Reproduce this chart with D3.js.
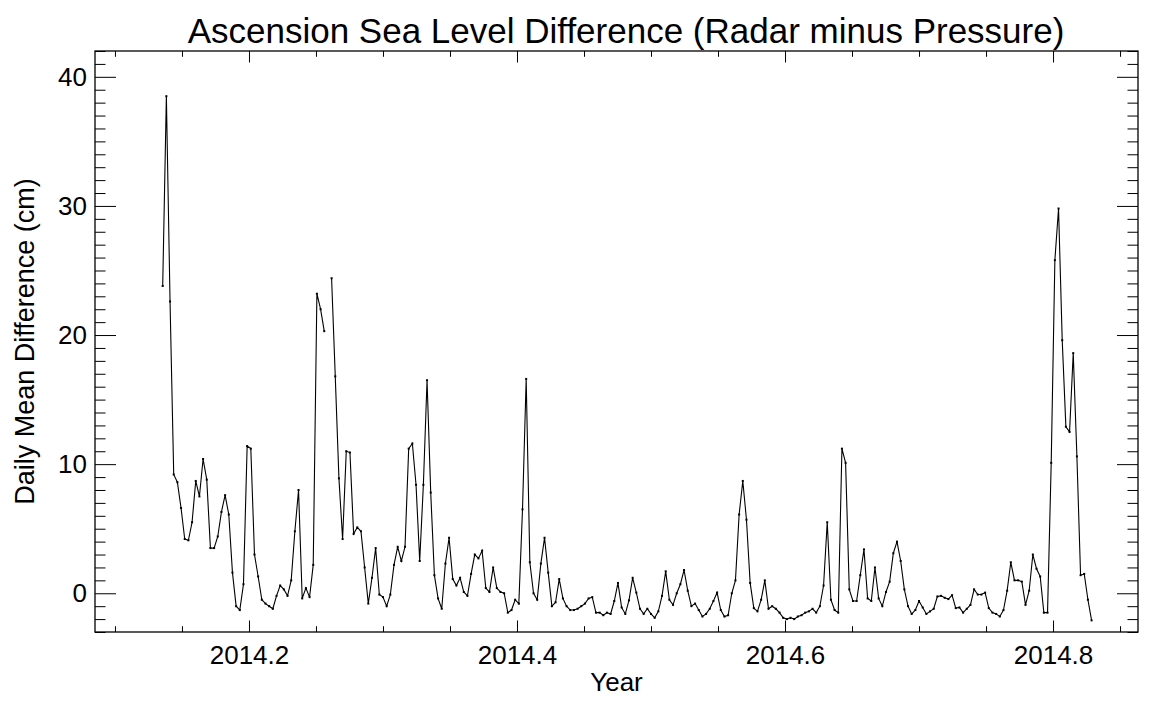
<!DOCTYPE html>
<html>
<head>
<meta charset="utf-8">
<script src="https://cdn.jsdelivr.net/npm/d3@7"></script>
<style>
  body { margin: 0; background: #fff; }
  text { font-family: "Liberation Sans", Arial, Helvetica, sans-serif; fill: #000; }
</style>
</head>
<body>
<svg id="chart" width="1152" height="701"></svg>
<script>
// Daily mean sea level difference, radar gauge minus pressure gauge (cm).
// First value is day-of-year 50 of 2014; null marks a missing day.
const firstDay = 50;
const diffCm = [
  23.8, 38.5, 22.6, 9.2, 8.6, 6.6, 4.2, 4.1, 5.5, 8.7,
  7.5, 10.4, 8.8, 3.5, 3.5, 4.4, 6.3, 7.6, 6.1, 1.6,
  -1.0, -1.3, 0.7, 11.4, 11.2, 3.0, 1.3, -0.5, -0.8, -1.0,
  -1.2, -0.2, 0.6, 0.3, -0.2, 1.0, 4.8, 8.0, -0.4, 0.4,
  -0.3, 2.2, 23.2, 22.0, 20.3, null, 24.4, 16.8, 8.9, 4.2,
  11.0, 10.9, 4.6, 5.1, 4.8, 2.0, -0.8, 1.2, 3.5, -0.1,
  -0.3, -1.0, -0.1, 2.2, 3.6, 2.5, 3.6, 11.2, 11.6, 8.4,
  2.5, 8.4, 16.5, 7.8, 1.4, -0.4, -1.2, 2.3, 4.3, 1.1,
  0.6, 1.2, 0.1, -0.2, 1.5, 3.0, 2.7, 3.3, 0.4, 0.1,
  2.0, 0.4, 0.1, 0.0, -1.5, -1.3, -0.5, -0.8, 6.5, 16.6,
  2.4, 0.0, -0.5, 2.3, 4.3, 1.6, -1.0, -0.7, 1.1, -0.4,
  -1.0, -1.3, -1.3, -1.2, -1.0, -0.8, -0.4, -0.3, -1.5, -1.5,
  -1.7, -1.5, -1.6, -0.6, 0.8, -1.1, -1.6, -0.55, 1.2, 0.05,
  -1.2, -1.6, -1.2, -1.6, -1.9, -1.4, -0.2, 1.7, -0.5, -0.9,
  0.0, 0.7, 1.8, 0.2, -1.0, -0.8, -1.3, -1.8, -1.6, -1.2,
  -0.6, 0.05, -1.3, -1.8, -1.7, 0.0, 1.0, 6.1, 8.7, 5.7,
  0.8, -1.15, -1.4, -0.5, 1.0, -1.2, -1.0, -1.2, -1.5, -1.9,
  -2.0, -1.9, -2.0, -1.8, -1.7, -1.5, -1.4, -1.2, -1.5, -1.0,
  0.6, 5.5, -0.5, -1.3, -1.5, 11.2, 10.1, 0.3, -0.6, -0.6,
  1.4, 3.4, -0.4, -0.6, 2.0, -0.4, -1.0, 0.1, 0.9, 3.1,
  4.0, 2.5, 0.3, -1.0, -1.6, -1.3, -0.6, -1.1, -1.6, -1.4,
  -1.2, -0.25, -0.2, -0.35, -0.45, -0.15, -1.15, -1.1, -1.5, -1.2,
  -0.9, 0.3, -0.1, -0.1, 0.05, -1.15, -1.5, -1.6, -1.8, -1.3,
  0.2, 2.4, 1.0, 1.0, 0.9, -0.9, 0.2, 3.0, 1.9, 1.3,
  -1.5, -1.5, 10.1, 25.8, 29.8, 19.6, 12.9, 12.5, 18.6, 10.6,
  1.4, 1.5, -0.5, -2.1
];

const xRange = [2014.0851, 2014.8634];
const yRange = [-3, 42];
const xMajorTicks = [2014.2, 2014.4, 2014.6, 2014.8];
const xMinorStep = 0.05;
const yMajorTicks = [0, 10, 20, 30, 40];
const yMinorStep = 1;

const titleText = "Ascension Sea Level Difference (Radar minus Pressure)";
const xTitle = "Year";
const yTitle = "Daily Mean Difference (cm)";

const svg = d3.select("#chart");
const plot = { left: 95, right: 1138, top: 51, bottom: 632 };

const x = d3.scaleLinear().domain(xRange).range([plot.left, plot.right]);
const y = d3.scaleLinear().domain(yRange).range([plot.bottom, plot.top]);

const series = diffCm.map((v, i) => ({ t: 2014 + (firstDay + i - 0.5) / 365, v }));

// minor tick positions
const xMinor = d3.range(Math.ceil(xRange[0] / xMinorStep) * xMinorStep, xRange[1], xMinorStep)
  .map(d => +d.toFixed(3))
  .filter(d => !xMajorTicks.some(m => Math.abs(m - d) < 1e-6));
const yMinor = d3.range(yRange[0], yRange[1] + 0.001, yMinorStep)
  .filter(d => !yMajorTicks.includes(d));

const xMajLen = 11.5, xMinLen = 5.8, yMajLen = 21, yMinLen = 10.5;
const tickFont = 26;

function styleAxis(g) {
  g.select(".domain").remove();
  g.selectAll(".tick line").attr("stroke", "#000").attr("stroke-width", 1);
}

// bottom axis with labels
svg.append("g")
  .attr("transform", `translate(0,${plot.bottom})`)
  .call(d3.axisBottom(x).tickValues(xMajorTicks).tickSize(-xMajLen).tickPadding(14)
        .tickFormat(d3.format(".1f")))
  .call(styleAxis)
  .call(g => g.selectAll("text").attr("font-size", tickFont).attr("font-family", "Liberation Sans, Arial, sans-serif"));
svg.append("g")
  .attr("transform", `translate(0,${plot.bottom})`)
  .call(d3.axisBottom(x).tickValues(xMinor).tickSize(-xMinLen).tickFormat(""))
  .call(styleAxis);
// top axis
svg.append("g")
  .attr("transform", `translate(0,${plot.top})`)
  .call(d3.axisTop(x).tickValues(xMajorTicks).tickSize(-xMajLen).tickFormat(""))
  .call(styleAxis);
svg.append("g")
  .attr("transform", `translate(0,${plot.top})`)
  .call(d3.axisTop(x).tickValues(xMinor).tickSize(-xMinLen).tickFormat(""))
  .call(styleAxis);

// left axis with labels
svg.append("g")
  .attr("transform", `translate(${plot.left},0)`)
  .call(d3.axisLeft(y).tickValues(yMajorTicks).tickSize(-yMajLen).tickPadding(8)
        .tickFormat(d3.format("d")))
  .call(styleAxis)
  .call(g => g.selectAll("text").attr("font-size", tickFont).attr("font-family", "Liberation Sans, Arial, sans-serif"));
svg.append("g")
  .attr("transform", `translate(${plot.left},0)`)
  .call(d3.axisLeft(y).tickValues(yMinor).tickSize(-yMinLen).tickFormat(""))
  .call(styleAxis);
// right axis
svg.append("g")
  .attr("transform", `translate(${plot.right},0)`)
  .call(d3.axisRight(y).tickValues(yMajorTicks).tickSize(-yMajLen).tickFormat(""))
  .call(styleAxis);
svg.append("g")
  .attr("transform", `translate(${plot.right},0)`)
  .call(d3.axisRight(y).tickValues(yMinor).tickSize(-yMinLen).tickFormat(""))
  .call(styleAxis);

// frame
svg.append("rect")
  .attr("x", plot.left).attr("y", plot.top)
  .attr("width", plot.right - plot.left).attr("height", plot.bottom - plot.top)
  .attr("fill", "none").attr("stroke", "#000").attr("stroke-width", 1.3);

// data line
const line = d3.line()
  .defined(d => d.v !== null)
  .x(d => x(d.t))
  .y(d => y(d.v));

svg.append("path")
  .datum(series)
  .attr("d", line)
  .attr("fill", "none")
  .attr("stroke", "#000")
  .attr("stroke-width", 1.1)
  .attr("stroke-linejoin", "miter");

svg.append("g")
  .selectAll("rect")
  .data(series.filter(d => d.v !== null))
  .join("rect")
  .attr("x", d => x(d.t) - 1)
  .attr("y", d => y(d.v) - 1)
  .attr("width", 2)
  .attr("height", 2)
  .attr("fill", "#000");

// titles
svg.append("text")
  .attr("x", 626)
  .attr("y", 43)
  .attr("text-anchor", "middle")
  .attr("font-size", 35)
  .text(titleText);

svg.append("text")
  .attr("x", (plot.left + plot.right) / 2)
  .attr("y", 691)
  .attr("text-anchor", "middle")
  .attr("font-size", 26)
  .text(xTitle);

svg.append("text")
  .attr("transform", `translate(34,${(plot.top + plot.bottom) / 2}) rotate(-90)`)
  .attr("text-anchor", "middle")
  .attr("font-size", 27)
  .text(yTitle);
</script>
</body>
</html>
